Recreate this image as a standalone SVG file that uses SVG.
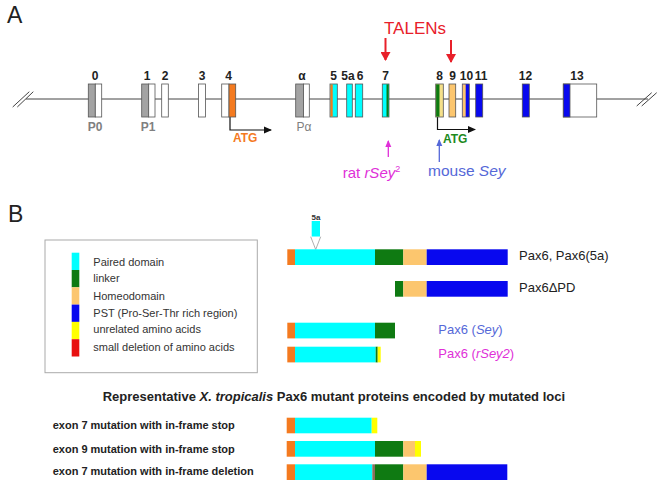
<svg xmlns="http://www.w3.org/2000/svg" width="664" height="488" viewBox="0 0 664 488">
<style>
text{font-family:"Liberation Sans",Arial,sans-serif}
.num{font-size:12px;font-weight:bold;fill:#222;text-anchor:middle}
.prom{font-size:12px;fill:#808080;text-anchor:middle}
.ex{stroke:#555;stroke-width:0.8}
.w{fill:#fff}.g{fill:#a3a3a3}.c{fill:#00ffff}.gr{fill:#0f7a12}.ho{fill:#fcc66e}.bl{fill:#0808ef}.or{fill:#f47a1f}.ye{fill:#ffff00}.rd{fill:#e81010}.py{fill:#f5e08a}
.leg{font-size:11px;fill:#333}
.lab{font-size:13px;fill:#222}
.row{font-size:11px;font-weight:bold;fill:#222}
.ln{stroke:#444;stroke-width:1;fill:none}
</style>
<defs>
<marker id="ah" markerWidth="8" markerHeight="8" refX="7" refY="4" orient="auto" markerUnits="userSpaceOnUse"><path d="M0,0.5 L8,4 L0,7.5 Z" fill="#111"/></marker>
<marker id="ahr" markerWidth="9" markerHeight="10" refX="8" refY="5" orient="auto" markerUnits="userSpaceOnUse"><path d="M0,0 L9,5 L0,10 Z" fill="#e8202a"/></marker>
<marker id="ahm" markerWidth="7" markerHeight="7" refX="6" refY="3.5" orient="auto" markerUnits="userSpaceOnUse"><path d="M0,0.5 L7,3.5 L0,6.5 Z" fill="#e030d8"/></marker>
<marker id="ahb" markerWidth="7" markerHeight="7" refX="6" refY="3.5" orient="auto" markerUnits="userSpaceOnUse"><path d="M0,0.5 L7,3.5 L0,6.5 Z" fill="#5568d8"/></marker>
</defs>
<rect width="664" height="488" fill="#fff"/>
<text x="7" y="23" font-size="23" fill="#222">A</text>
<text x="8" y="222" font-size="23" fill="#222">B</text>

<g id="connectors">
<line class="ln" x1="26" y1="99" x2="648" y2="99"/>
<line class="ln" x1="12.7" y1="107" x2="29.3" y2="91.7"/>
<line class="ln" x1="17.3" y1="107" x2="33.3" y2="91.7"/>
<line class="ln" x1="636.7" y1="106" x2="651.7" y2="92.7"/>
<line class="ln" x1="641.7" y1="106" x2="656.7" y2="92.7"/>
<path d="M230,117 V130 H271" stroke="#111" stroke-width="1.2" fill="none" marker-end="url(#ah)"/>
<path d="M437.5,117 V129.5 H475" stroke="#111" stroke-width="1.2" fill="none" marker-end="url(#ah)"/>
<line x1="385.5" y1="38" x2="385.5" y2="60" stroke="#e8202a" stroke-width="2" marker-end="url(#ahr)"/>
<line x1="451" y1="40" x2="451" y2="62" stroke="#e8202a" stroke-width="2" marker-end="url(#ahr)"/>
<line x1="388.3" y1="157" x2="388.3" y2="141" stroke="#e030d8" stroke-width="1.3" marker-end="url(#ahm)"/>
<line x1="439.3" y1="162" x2="439.3" y2="140" stroke="#5568d8" stroke-width="1.3" marker-end="url(#ahb)"/>
</g>

<g id="exon0"><rect class="ex g" x="88.3" y="84" width="7" height="33"/><rect class="ex w" x="95.3" y="84" width="6.4" height="33"/><text class="num" x="95" y="80">0</text><text class="prom" x="95" y="130.5" font-weight="bold">P0</text></g>
<g id="exon1"><rect class="ex g" x="141.7" y="84" width="7" height="33"/><rect class="ex w" x="148.7" y="84" width="6.3" height="33"/><text class="num" x="147" y="80">1</text><text class="prom" x="148" y="130.5" font-weight="bold">P1</text></g>
<g id="exon2"><rect class="ex w" x="161.7" y="84" width="6.6" height="33"/><text class="num" x="165" y="80">2</text></g>
<g id="exon3"><rect class="ex w" x="198.5" y="84" width="7" height="33"/><text class="num" x="202" y="80">3</text></g>
<g id="exon4"><rect class="ex w" x="221.7" y="84" width="7.3" height="33"/><rect class="ex or" x="229" y="84" width="6.7" height="33"/><text class="num" x="228.5" y="80">4</text><text x="233" y="142" font-size="12" font-weight="bold" fill="#f47a1f">ATG</text></g>
<g id="exonAlpha"><rect class="ex g" x="295.7" y="84" width="7.8" height="33"/><rect class="ex w" x="303.5" y="84" width="5.8" height="33"/><text class="num" x="302" y="80" font-weight="normal" font-size="14">α</text><text class="prom" x="304" y="130.5">Pα</text></g>
<g id="exon5"><rect class="ex c" x="330" y="84" width="7.3" height="33"/><rect class="or" x="330.4" y="84.4" width="2.3" height="32.2"/><text class="num" x="333.5" y="80">5</text></g>
<g id="exon5a"><rect class="ex c" x="346.7" y="84" width="5.6" height="33"/><text class="num" x="348" y="80">5a</text></g>
<g id="exon6"><rect class="ex c" x="355.3" y="84" width="7.4" height="33"/><text class="num" x="360" y="80">6</text></g>
<g id="exon7"><rect class="ex c" x="382.3" y="84" width="6.7" height="33"/><rect class="gr" x="386.5" y="84.4" width="2.1" height="32.2"/><text class="num" x="385.5" y="80">7</text></g>
<g id="exon8"><rect class="ex py" x="435.7" y="84" width="7.6" height="33"/><rect class="gr" x="436.1" y="84.4" width="3.4" height="32.2"/><text class="num" x="439.5" y="80">8</text><text x="443" y="143" font-size="12" font-weight="bold" fill="#1d8a1d">ATG</text></g>
<g id="exon9"><rect class="ex ho" x="449" y="84" width="6.7" height="33"/><text class="num" x="452.5" y="80">9</text></g>
<g id="exon10"><rect class="ex bl" x="462.3" y="84" width="7" height="33"/><rect class="ho" x="462.7" y="84.4" width="3" height="32.2"/><text class="num" x="466.5" y="80">10</text></g>
<g id="exon11"><rect class="ex bl" x="475.7" y="84" width="7" height="33"/><text class="num" x="481" y="80">11</text></g>
<g id="exon12"><rect class="ex bl" x="522.3" y="84" width="7" height="33"/><text class="num" x="525.5" y="80">12</text></g>
<g id="exon13"><rect class="ex w" x="563.3" y="84" width="33.4" height="33"/><rect class="ex bl" x="563.3" y="84" width="6.7" height="33"/><text class="num" x="577" y="80">13</text></g>

<g id="talens"><text x="384" y="34" font-size="17" fill="#e8202a">TALENs</text></g>
<g id="rat"><text x="342.7" y="178" font-size="15" fill="#e030d8">rat <tspan font-style="italic">rSey</tspan><tspan font-size="9" dy="-6">2</tspan></text></g>
<g id="mouse"><text x="428" y="176" font-size="15.5" fill="#5568d8">mouse <tspan font-style="italic">Sey</tspan></text></g>

<g id="legend">
<rect x="45" y="240" width="212.3" height="132.7" fill="#fff" stroke="#aaa" stroke-width="1"/>
<rect class="c" x="71.7" y="252.7" width="7.6" height="17.3"/>
<rect class="gr" x="71.7" y="270" width="7.6" height="17.3"/>
<rect class="ho" x="71.7" y="287.3" width="7.6" height="17.3"/>
<rect class="bl" x="71.7" y="304.6" width="7.6" height="17.3"/>
<rect class="ye" x="71.7" y="321.9" width="7.6" height="17.3"/>
<rect class="rd" x="71.7" y="339.2" width="7.6" height="17.3"/>
<text class="leg" x="93.3" y="266">Paired domain</text>
<text class="leg" x="93.3" y="282">linker</text>
<text class="leg" x="93.3" y="300">Homeodomain</text>
<text class="leg" x="93.3" y="316.7">PST (Pro-Ser-Thr rich region)</text>
<text class="leg" x="93.3" y="333.3">unrelated amino acids</text>
<text class="leg" x="93.3" y="350.7">small deletion of amino acids</text>
</g>

<g id="pax6">
<text x="316" y="219.5" font-size="8" font-weight="bold" fill="#333" text-anchor="middle">5a</text>
<rect class="c" x="311.7" y="221" width="8.3" height="15.7"/>
<path d="M310.7,236.7 L315.7,249.5 L320.7,236.7" fill="#fff" stroke="#999" stroke-width="0.8"/>
<rect class="or" x="287.3" y="249.3" width="7.7" height="15.7"/>
<rect class="c" x="295" y="249.3" width="80" height="15.7"/>
<rect class="gr" x="375" y="249.3" width="28.3" height="15.7"/>
<rect class="ho" x="403.3" y="249.3" width="23.4" height="15.7"/>
<rect class="bl" x="426.7" y="249.3" width="81" height="15.7"/>
<text class="lab" x="519" y="260">Pax6, Pax6(5a)</text>
</g>
<g id="pax6dpd">
<rect class="gr" x="395" y="281" width="8.3" height="15.7"/>
<rect class="ho" x="403.3" y="281" width="23.4" height="15.7"/>
<rect class="bl" x="426.7" y="281" width="81" height="15.7"/>
<text class="lab" x="519" y="292">Pax6ΔPD</text>
</g>
<g id="pax6sey">
<rect class="or" x="287.3" y="322.7" width="7.7" height="15.7"/>
<rect class="c" x="295" y="322.7" width="80" height="15.7"/>
<rect class="gr" x="375" y="322.7" width="20" height="15.7"/>
<text class="lab" x="438.3" y="334.3" style="fill:#5568d8">Pax6 (<tspan font-style="italic">Sey</tspan>)</text>
</g>
<g id="pax6rsey2">
<rect class="or" x="287.3" y="346.7" width="7.7" height="15.7"/>
<rect class="c" x="295" y="346.7" width="80.7" height="15.7"/>
<rect class="gr" x="375.7" y="346.7" width="2" height="15.7"/>
<rect class="ye" x="377.7" y="346.7" width="3" height="15.7"/>
<text class="lab" x="438.3" y="358.3" style="fill:#e030d8">Pax6 (<tspan font-style="italic">rSey2</tspan>)</text>
</g>

<text x="102.7" y="401" font-size="13" font-weight="bold" fill="#222">Representative <tspan font-style="italic">X. tropicalis</tspan> Pax6 mutant proteins encoded by mutated loci</text>

<g id="mut1">
<text class="row" x="52.7" y="429.3">exon 7 mutation with in-frame stop</text>
<rect class="or" x="286.7" y="417.7" width="8.3" height="15.6"/>
<rect class="c" x="295" y="417.7" width="76.7" height="15.6"/>
<rect class="ye" x="371.7" y="417.7" width="5.6" height="15.6"/>
</g>
<g id="mut2">
<text class="row" x="52.7" y="452.7">exon 9 mutation with in-frame stop</text>
<rect class="or" x="286.7" y="441" width="8.3" height="15.7"/>
<rect class="c" x="295" y="441" width="80" height="15.7"/>
<rect class="gr" x="375" y="441" width="28.3" height="15.7"/>
<rect class="ho" x="403.3" y="441" width="11.7" height="15.7"/>
<rect class="ye" x="415" y="441" width="6" height="15.7"/>
</g>
<g id="mut3">
<text class="row" x="52.7" y="475">exon 7 mutation with in-frame deletion</text>
<rect class="or" x="286.7" y="464.3" width="8.3" height="15.7"/>
<rect class="c" x="295" y="464.3" width="77.3" height="15.7"/>
<rect x="372.3" y="464.3" width="2.7" height="15.7" fill="#8b6f5e"/>
<rect class="gr" x="375" y="464.3" width="28.3" height="15.7"/>
<rect class="ho" x="403.3" y="464.3" width="23.4" height="15.7"/>
<rect class="bl" x="426.7" y="464.3" width="80.6" height="15.7"/>
</g>
</svg>
